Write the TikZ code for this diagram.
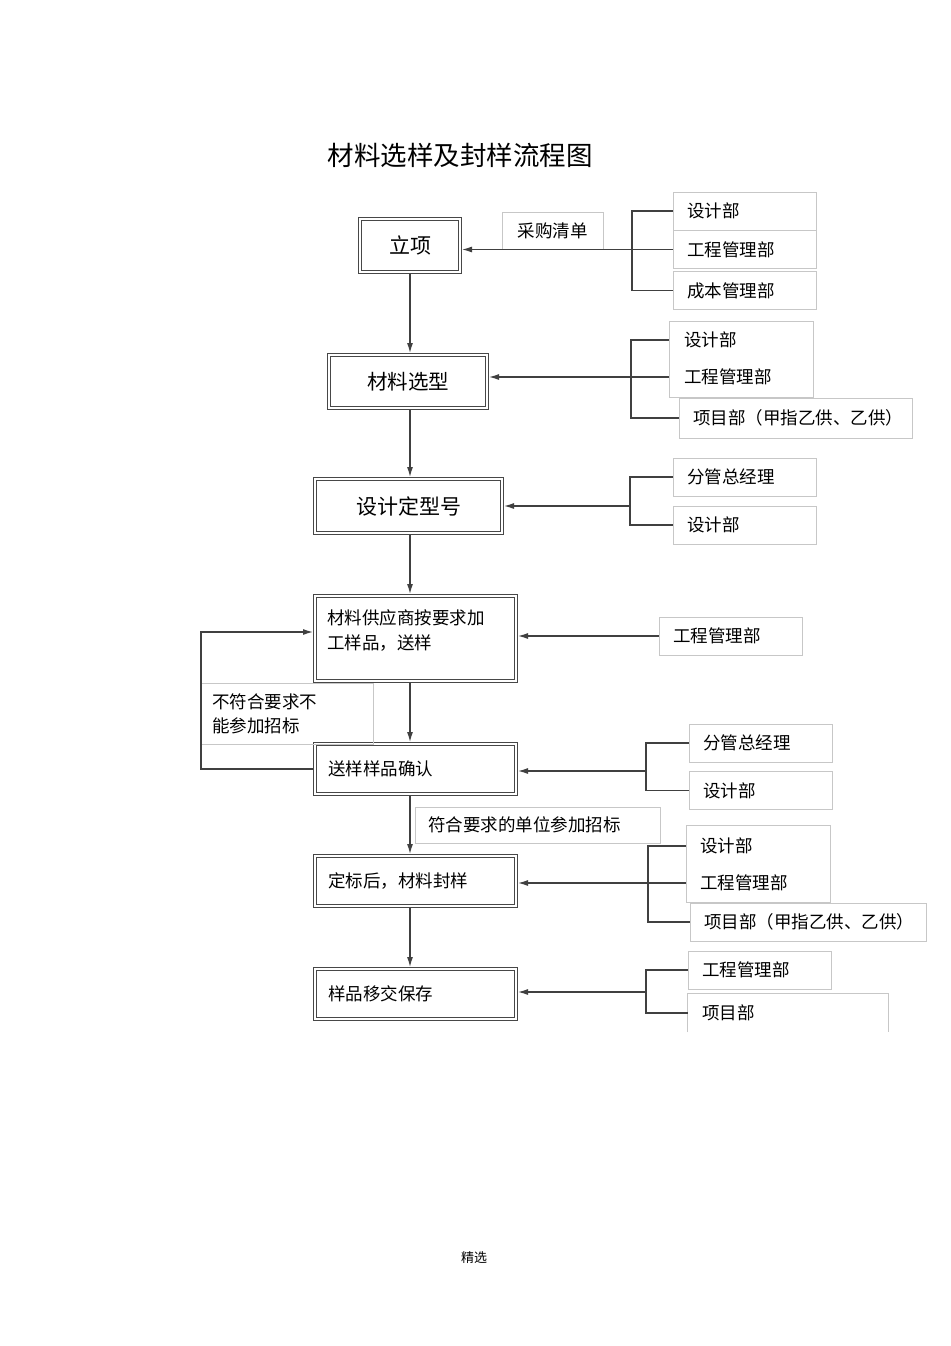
\documentclass[tikz,border=0pt]{standalone}
\usepackage{fontspec}
\setmainfont{Noto Sans CJK SC}
\usetikzlibrary{arrows.meta}

\tikzset{
  stepbox/.style={draw=black!72, double, double distance=1.2pt, line width=1.4pt,
    outer sep=2pt, inner sep=0pt},
  dept/.style={draw=black!22, line width=0.6pt, minimum width=143, minimum height=38,
    text width=115, align=left, inner xsep=14, inner ysep=0,
    font=\fontsize{17.5}{22}\selectfont},
  depttxt/.style={inner sep=0pt, anchor=west, font=\fontsize{17.5}{22}\selectfont},
  link/.style={draw=black!75, line width=1.2pt},
  arr/.style={link, -{Latex[length=10pt,width=6pt]}},
}

\begin{document}
\begin{tikzpicture}[x=1pt,y=-1pt]
  \useasboundingbox (0,0) rectangle (950,1346);

  % Title
  \node[font=\fontsize{26.5}{30}\selectfont] (title) at (460,155) {材料选样及封样流程图};

  % Main steps
  \node[stepbox, minimum width=100, minimum height=53, font=\fontsize{21}{24}\selectfont]
    (lixiang) at (410,245.5) {立项};
  \node[stepbox, minimum width=158, minimum height=53, font=\fontsize{20.5}{24}\selectfont]
    (xuanxing) at (408,381.5) {材料选型};
  \node[stepbox, minimum width=187, minimum height=54, font=\fontsize{21}{24}\selectfont]
    (dingxing) at (408.5,506) {设计定型号};
  \node[stepbox, minimum width=201, minimum height=85] (gongying) at (415.5,638.5) {};
  \node[anchor=north west, inner sep=0pt, align=left, font=\fontsize{17.5}{25}\selectfont]
    (gongyingtxt) at ([shift={(14,15)}]gongying.north west) {材料供应商按要求加\\工样品，送样};
  \node[stepbox, minimum height=50, text width=175, align=left, inner xsep=13,
    font=\fontsize{17.5}{22}\selectfont] (queren) at (415.5,769) {送样样品确认};
  \node[stepbox, minimum height=50, text width=175, align=left, inner xsep=13,
    font=\fontsize{17.5}{22}\selectfont] (fengyang) at (415.5,881) {定标后，材料封样};
  \node[stepbox, minimum height=50, text width=175, align=left, inner xsep=13,
    font=\fontsize{17.5}{22}\selectfont] (yijiao) at (415.5,994) {样品移交保存};

  % Main flow
  \coordinate (spine) at (410,0);
  \draw[arr] (lixiang.south -| spine) -- (xuanxing.north -| spine);
  \draw[arr] (xuanxing.south -| spine) -- (dingxing.north -| spine);
  \draw[arr] (dingxing.south -| spine) -- (gongying.north -| spine);
  \draw[arr] (gongying.south -| spine) -- (queren.north -| spine);
  \draw[arr] (queren.south -| spine) -- (fengyang.north -| spine);
  \draw[arr] (fengyang.south -| spine) -- (yijiao.north -| spine);

  % Row 1
  \node[dept] (d1a) at (744.5,211) {设计部};
  \node[dept] (d1b) at (744.5,249.5) {工程管理部};
  \node[dept] (d1c) at (744.5,290.5) {成本管理部};
  \node[draw=black!22, line width=0.6pt, minimum width=101, minimum height=37,
    font=\fontsize{17.5}{22}\selectfont] (caigou) at (552.5,231) {采购清单};
  \coordinate (b1) at (632,249.5);
  \draw[link] (d1a.west) -| (b1) |- (d1c.west);
  \draw[link] (d1b.west) -- (b1);
  \draw[arr] (b1) -- (b1 -| lixiang.east);

  % Row 2
  \node[draw=black!22, line width=0.6pt, minimum width=144, minimum height=76] (f2) at (741,359) {};
  \node[depttxt] (s2a) at (684,340) {设计部};
  \node[depttxt] (s2b) at (684,377) {工程管理部};
  \node[dept, minimum width=233, text width=205, minimum height=40] (d2c) at (795.5,418) {项目部（甲指乙供、乙供）};
  \coordinate (b2) at (631,377);
  \draw[link] (s2a.west -| f2.west) -| (b2) |- (d2c.west);
  \draw[link] (s2b.west -| f2.west) -- (b2);
  \draw[arr] (b2) -- (b2 -| xuanxing.east);

  % Row 3
  \node[dept] (d3a) at (744.5,477) {分管总经理};
  \node[dept] (d3b) at (744.5,525) {设计部};
  \coordinate (b3) at (630,506);
  \draw[link] (d3a.west) -| (b3) |- (d3b.west);
  \draw[arr] (b3) -- (b3 -| dingxing.east);

  % Row 4
  \node[dept] (d4) at (730.5,636) {工程管理部};
  \draw[arr] (d4.west) -- (d4.west -| gongying.east);

  % Loop back
  \node[draw=black!22, line width=0.6pt, minimum width=172, minimum height=61, anchor=north west,
    text width=150, align=left, inner xsep=11, font=\fontsize{17.5}{24}\selectfont]
    (buhege) at (201,683) {不符合要求不\\能参加招标};
  \coordinate (lp) at (201,632);
  \draw[arr] (queren.west) -| (lp) -- (lp -| gongying.west);

  % Row 5
  \node[dept] (d5a) at (760.5,743) {分管总经理};
  \node[dept] (d5b) at (760.5,790.5) {设计部};
  \coordinate (b5) at (646,771);
  \draw[link] (d5a.west) -| (b5) |- (d5b.west);
  \draw[arr] (b5) -- (b5 -| queren.east);
  \node[draw=black!22, line width=0.6pt, minimum width=245, minimum height=36,
    text width=219, align=left, inner xsep=13, font=\fontsize{17.5}{22}\selectfont]
    (hege) at (537.5,825) {符合要求的单位参加招标};

  % Row 6
  \node[draw=black!22, line width=0.6pt, minimum width=144, minimum height=77] (f6) at (758,863.5) {};
  \node[depttxt] (s6a) at (700,846) {设计部};
  \node[depttxt] (s6b) at (700,883) {工程管理部};
  \node[dept, minimum width=236, text width=208, minimum height=38] (d6c) at (808,922) {项目部（甲指乙供、乙供）};
  \coordinate (b6) at (648,883);
  \draw[link] (s6a.west -| f6.west) -| (b6) |- (d6c.west);
  \draw[link] (s6b.west -| f6.west) -- (b6);
  \draw[arr] (b6) -- (b6 -| fengyang.east);

  % Row 7
  \node[dept] (d7a) at (759.5,970) {工程管理部};
  \node[dept, draw=none, minimum width=200, text width=172] (d7b) at (788,1013) {项目部};
  \draw[draw=black!22, line width=0.6pt] (d7b.south west) |- (d7b.north east) -- (d7b.south east);
  \coordinate (b7) at (646,992);
  \draw[link] (d7a.west) -| (b7) |- (d7b.west);
  \draw[arr] (b7) -- (b7 -| yijiao.east);

  % Footer
  \node[font=\fontsize{13}{15}\selectfont] (footer) at (474,1258) {精选};
\end{tikzpicture}
\end{document}
